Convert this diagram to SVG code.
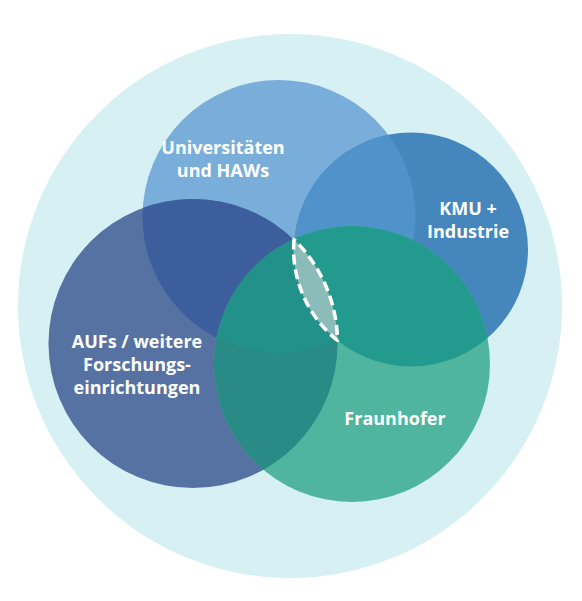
<svg xmlns="http://www.w3.org/2000/svg" width="582" height="601" viewBox="0 0 582 601">
<style>
.lbl{font-family:"Open Sans","Noto Sans","Liberation Sans",sans-serif;font-weight:bold;font-size:18px;fill:#ffffff;text-anchor:middle}
.lens{fill:#8cbcba;stroke:#ffffff;stroke-width:3.5;stroke-dasharray:10 5;stroke-linejoin:round}
</style>
<defs>
<clipPath id="cUni"><circle cx="279" cy="216.5" r="136.5"/></clipPath>
<clipPath id="cKMU"><circle cx="411" cy="249.5" r="117"/></clipPath>
<clipPath id="cAUF"><circle cx="193" cy="343.5" r="144.5"/></clipPath>
</defs>
<rect width="582" height="601" fill="#ffffff"/>
<g id="umfeld">
<circle cx="290" cy="306" r="272" fill="#d6f0f4"/>
</g>
<g id="universitaeten">
<circle cx="279" cy="216.5" r="136.5" fill="#78aed9"/>
<text class="lbl" x="223" y="154">Universitäten</text>
<text class="lbl" x="223" y="176.5">und HAWs</text>
</g>
<g id="kmu">
<circle cx="411" cy="249.5" r="117" fill="#4587bd"/>
<circle cx="411" cy="249.5" r="117" fill="#4f93ca" clip-path="url(#cUni)"/>
<text class="lbl" x="468" y="215">KMU +</text>
<text class="lbl" x="468" y="237.5">Industrie</text>
</g>
<g id="aufs">
<circle cx="193" cy="343.5" r="144.5" fill="#5572a2"/>
<circle cx="193" cy="343.5" r="144.5" fill="#3d5e9c" clip-path="url(#cUni)"/>
<text class="lbl" x="137" y="348">AUFs / weitere</text>
<text class="lbl" x="137" y="371">Forschungs-</text>
<text class="lbl" x="137" y="393.5">einrichtungen</text>
</g>
<g id="fraunhofer">
<circle cx="352" cy="364" r="138" fill="#4fb59f"/>
<circle cx="352" cy="364" r="138" fill="#239a8e" clip-path="url(#cKMU)"/>
<circle cx="352" cy="364" r="138" fill="#298a86" clip-path="url(#cAUF)"/>
<g clip-path="url(#cUni)"><circle cx="352" cy="364" r="138" fill="#22918a" clip-path="url(#cAUF)"/></g>
<text class="lbl" x="395" y="425">Fraunhofer</text>
</g>
<g id="connectors">
<path id="schnittmenge" class="lens" d="M294,239.5 A117,117 0 0 0 337.5,340.5 A144.5,144.5 0 0 0 294,239.5 Z"/>
</g>
</svg>
